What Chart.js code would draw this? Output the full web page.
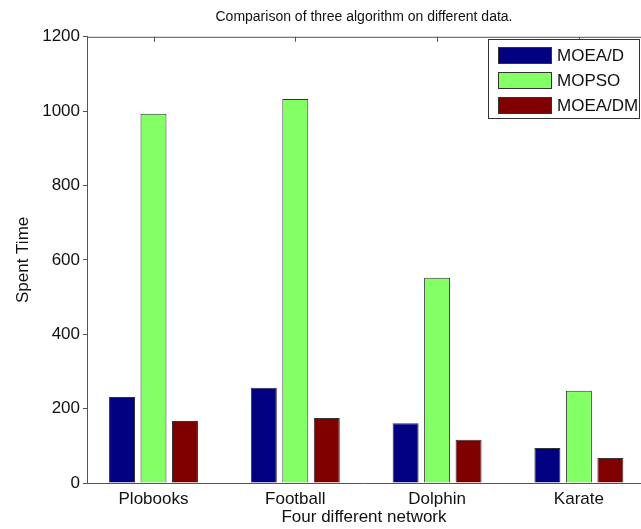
<!DOCTYPE html>
<html>
<head>
<meta charset="utf-8">
<title>Comparison of three algorithm on different data.</title>
<script src="https://cdn.jsdelivr.net/npm/chart.js@4/dist/chart.umd.min.js"></script>
<style>
  html, body { margin: 0; padding: 0; background: #fff; }
  #wrap { width: 641px; height: 529px; }
</style>
</head>
<body>
<div id="wrap"><canvas id="c" width="641" height="529"></canvas></div>
<script>
// Networks on the x axis
const categories = ['Plobooks', 'Football', 'Dolphin', 'Karate'];
// Running time of each algorithm per network
const moeaD  = [231, 256, 161, 94];
const mopso  = [993, 1033, 552, 248];
const moeaDM = [167, 175, 116, 67];
// Y axis ticks
const yTicks = [0, 200, 400, 600, 800, 1000, 1200];

const seriesNames  = ['MOEA/D', 'MOPSO', 'MOEA/DM'];
const seriesColors = ['#000080', '#84ff66', '#800000'];
const axisColor = '#555';
const FONT = '"Liberation Sans", Arial, Helvetica, sans-serif';

function toPoints(values) {
  return values.map((v, i) => ({ x: i + 1, y: v }));
}

// Top frame line, inward top ticks and the boxed legend
const framePlugin = {
  id: 'frame',
  afterDraw(chart) {
    const ctx = chart.ctx;
    const area = chart.chartArea;
    const xs = chart.scales.x;
    ctx.save();
    ctx.strokeStyle = axisColor;
    ctx.lineWidth = 1;
    ctx.beginPath();
    ctx.moveTo(area.left, area.top + 0.5);
    ctx.lineTo(area.right, area.top + 0.5);
    categories.forEach((c, i) => {
      const px = Math.round(xs.getPixelForValue(i + 1)) + 0.5;
      ctx.moveTo(px, area.top);
      ctx.lineTo(px, area.top + 5);
    });
    ctx.stroke();

    // legend box
    const lx = 488, ly = 39, lw = 152, lh = 80;
    ctx.fillStyle = '#fff';
    ctx.fillRect(lx, ly, lw, lh);
    ctx.strokeStyle = '#333';
    ctx.strokeRect(lx + 0.5, ly + 0.5, lw - 1, lh - 1);
    ctx.font = '17px ' + FONT;
    ctx.textBaseline = 'middle';
    ctx.textAlign = 'left';
    chart.data.datasets.forEach((ds, i) => {
      const y = 47 + i * 25;
      ctx.fillStyle = ds.backgroundColor;
      ctx.fillRect(498, y, 54, 17);
      ctx.strokeStyle = '#333';
      ctx.strokeRect(498.5, y + 0.5, 53, 16);
      ctx.fillStyle = '#111';
      ctx.fillText(ds.label, 557, y + 9);
    });
    ctx.restore();
  }
};

new Chart(document.getElementById('c'), {
  type: 'bar',
  data: {
    datasets: [
      { label: seriesNames[0], data: toPoints(moeaD),  backgroundColor: seriesColors[0] },
      { label: seriesNames[1], data: toPoints(mopso),  backgroundColor: seriesColors[1] },
      { label: seriesNames[2], data: toPoints(moeaDM), backgroundColor: seriesColors[2] }
    ].map(d => Object.assign(d, {
      borderColor: '#333',
      borderWidth: 1,
      categoryPercentage: 0.666,
      barPercentage: 0.825
    }))
  },
  options: {
    responsive: false,
    devicePixelRatio: 1,
    animation: false,
    layout: { padding: 0 },
    plugins: {
      legend: { display: false },
      tooltip: { enabled: false },
      title: {
        display: true,
        text: 'Comparison of three algorithm on different data.',
        fullSize: false,
        color: '#111',
        font: { family: FONT, size: 14, weight: 'normal' },
        padding: { top: 9, bottom: 11 }
      }
    },
    scales: {
      x: {
        type: 'linear',
        min: 0.531,
        max: 4.438,
        offset: false,
        grid: { display: false, offset: false },
        border: { display: true, color: axisColor, width: 1 },
        afterBuildTicks: (s) => { s.ticks = categories.map((c, i) => ({ value: i + 1 })); },
        afterFit: (s) => { s.height = 46; },
        ticks: {
          autoSkip: false,
          maxRotation: 0,
          padding: -2,
          color: '#111',
          font: { family: FONT, size: 17 },
          callback: (v) => categories[Math.round(v) - 1]
        },
        title: {
          display: true,
          text: 'Four different network',
          color: '#111',
          font: { family: FONT, size: 17 },
          padding: { top: 0, bottom: 1 }
        }
      },
      y: {
        min: 0,
        max: 1200,
        afterBuildTicks: (s) => { s.ticks = yTicks.map(v => ({ value: v })); },
        afterFit: (s) => { s.width = 87; },
        grid: { display: true, drawOnChartArea: false, drawTicks: true, tickLength: 4, tickColor: axisColor },
        border: { display: true, color: axisColor, width: 1 },
        ticks: {
          padding: 3,
          color: '#111',
          font: { family: FONT, size: 17 },
          callback: (v) => String(v)
        },
        title: {
          display: true,
          text: 'Spent Time',
          color: '#111',
          font: { family: FONT, size: 17 },
          padding: { top: 13, bottom: 0 }
        }
      }
    }
  },
  plugins: [framePlugin]
});
</script>
</body>
</html>
